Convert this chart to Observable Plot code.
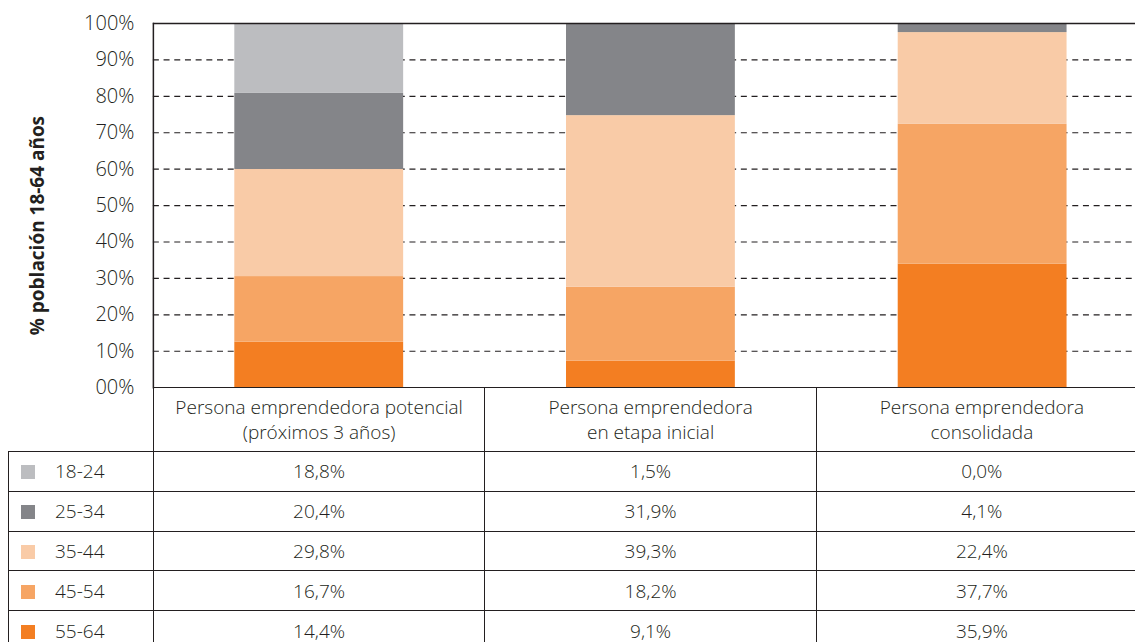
<!DOCTYPE html>
<html>
<head>
<meta charset="utf-8">
<script src="https://cdn.jsdelivr.net/npm/d3@7"></script>
<script src="https://cdn.jsdelivr.net/npm/@observablehq/plot@0.6"></script>
<style>
  html, body { margin: 0; padding: 0; background: #fff; overflow: hidden; }
  body { font-family: "Open Sans", sans-serif; color: #231f20; }
  #wrap { position: relative; width: 1148px; height: 642px; }
  #chart { position: absolute; left: 0; top: 0; }
  #chart svg { display: block; }
  table.data { position: absolute; left: 8px; top: 387px; border-collapse: collapse; table-layout: fixed; font-size: 19px; font-weight: 300; color: #231f20; }
  table.data td { border: 1.5px solid #231f20; padding: 0; text-align: center; vertical-align: middle; white-space: nowrap; }
  table.data tr.head td { height: 63px; line-height: 25px; }
  table.data tr.row td { height: 38.8px; }
  table.data td.blank { border-top: none; border-left: none; }
  table.data td.leg { text-align: left; padding-left: 12px; }
  .sw { display: inline-block; width: 14px; height: 14px; margin-right: 20px; vertical-align: -1px; }
</style>
</head>
<body>
<div id="wrap">
  <div id="chart"></div>
  <table class="data" id="tbl"></table>
</div>
<script>
// ---- Data ----
const categories = [
  "Persona emprendedora potencial\n(próximos 3 años)",
  "Persona emprendedora\nen etapa inicial",
  "Persona emprendedora\nconsolidada"
];
const ageGroups = ["18-24", "25-34", "35-44", "45-54", "55-64"];
const ageColors = ["#bcbdc0", "#848589", "#f9cba7", "#f6a564", "#f37e22"];

// bar segment heights as drawn (% of each bar)
const bar18_24 = [19.2, 0.0, 0.0];
const bar25_34 = [20.9, 25.3, 2.5];
const bar35_44 = [29.4, 47.1, 25.2];
const bar45_54 = [18.0, 20.3, 38.4];
const bar55_64 = [12.5, 7.3, 33.9];

// table values as printed
const tab18_24 = ["18,8%", "1,5%", "0,0%"];
const tab25_34 = ["20,4%", "31,9%", "4,1%"];
const tab35_44 = ["29,8%", "39,3%", "22,4%"];
const tab45_54 = ["16,7%", "18,2%", "37,7%"];
const tab55_64 = ["14,4%", "9,1%", "35,9%"];

const yTicks = [0, 10, 20, 30, 40, 50, 60, 70, 80, 90, 100];
const yTickLabels = ["00%", "10%", "20%", "30%", "40%", "50%", "60%", "70%", "80%", "90%", "100%"];
const yLabel = "% población 18-64 años";

// ---- Build ----
const barSeries = [bar18_24, bar25_34, bar35_44, bar45_54, bar55_64];
const tabSeries = [tab18_24, tab25_34, tab35_44, tab45_54, tab55_64];
const stackOrder = ageGroups.slice().reverse(); // 55-64 at the bottom

const rows = [];
stackOrder.forEach(age => {
  const vals = barSeries[ageGroups.indexOf(age)];
  categories.forEach((c, i) => rows.push({category: c, age, value: vals[i]}));
});

const colW = 332;
const W = 153 + colW * 3;

const chart = Plot.plot({
  width: W,
  height: 402,
  marginLeft: 153,
  marginRight: 0,
  marginTop: 23,
  marginBottom: 14.5,
  style: {fontFamily: "'Open Sans', sans-serif", fontSize: "19px", color: "#231f20", background: "transparent"},
  x: {domain: categories, padding: 0, axis: null},
  y: {domain: [0, 100], axis: null},
  color: {domain: ageGroups, range: ageColors},
  marks: [
    Plot.ruleY(yTicks.filter(d => d > 0 && d < 100), {stroke: "#231f20", strokeWidth: 1.2, strokeDasharray: "6,4.7"}),
    Plot.barY(rows, Plot.stackY({x: "category", y: "value", fill: "age", order: stackOrder, insetLeft: 81.5, insetRight: 81.5})),
    Plot.ruleY([100], {stroke: "#231f20", strokeWidth: 1.5}),
    Plot.frame({anchor: "left", stroke: "#231f20", strokeWidth: 1.5}),
    Plot.axisY({ticks: yTicks, tickFormat: d => yTickLabels[yTicks.indexOf(d)], tickSize: 0, tickPadding: 19, fontSize: 20, fontWeight: 300, fill: "#231f20", label: null}),
    Plot.text([yLabel], {text: d => d, frameAnchor: "left", textAnchor: "middle", dx: -116, dy: 20, rotate: -90, fontWeight: "bold", fontSize: 19, fill: "#231f20"})
  ]
});
document.getElementById("chart").appendChild(chart);

// ---- Table ----
const tbl = document.getElementById("tbl");
const colgroup = document.createElement("colgroup");
[145, colW, colW, colW].forEach(w => { const c = document.createElement("col"); c.style.width = w + "px"; colgroup.appendChild(c); });
tbl.appendChild(colgroup);
const head = document.createElement("tr");
head.className = "head";
const blank = document.createElement("td"); blank.className = "blank"; head.appendChild(blank);
categories.forEach(c => {
  const td = document.createElement("td");
  td.innerHTML = c.split("\n").join("<br>");
  head.appendChild(td);
});
tbl.appendChild(head);
ageGroups.forEach((age, k) => {
  const tr = document.createElement("tr");
  tr.className = "row";
  const lg = document.createElement("td");
  lg.className = "leg";
  lg.innerHTML = `<span class="sw" style="background:${ageColors[k]}"></span>${age}`;
  tr.appendChild(lg);
  tabSeries[k].forEach(v => { const td = document.createElement("td"); td.textContent = v; tr.appendChild(td); });
  tbl.appendChild(tr);
});
</script>
</body>
</html>
